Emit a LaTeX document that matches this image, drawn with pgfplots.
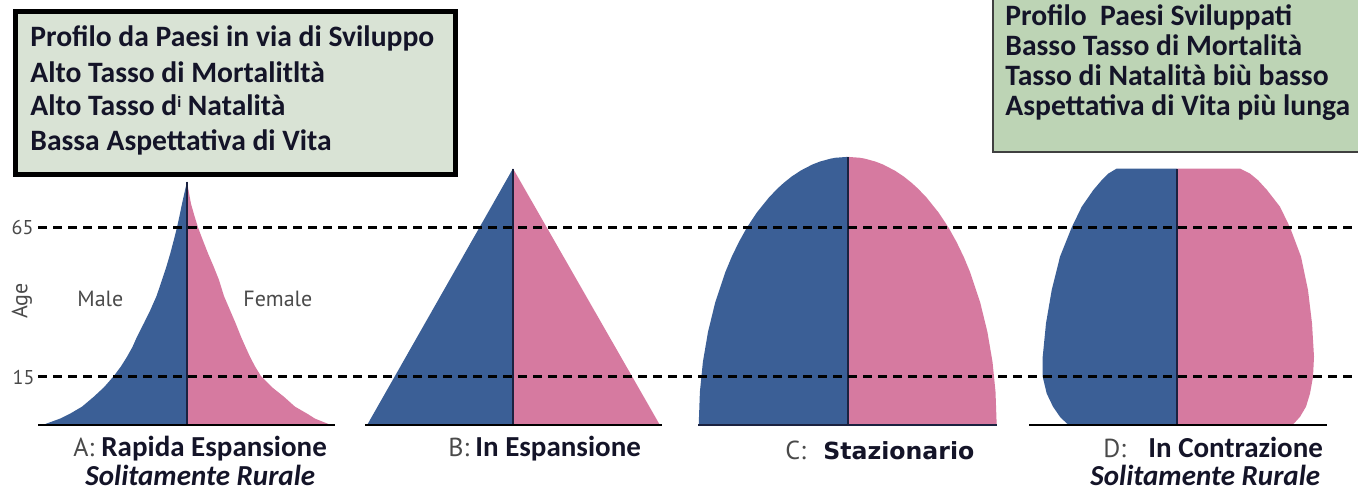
\documentclass[border=0pt]{standalone}
\usepackage{pgfplots}
\pgfplotsset{compat=1.18}
\usepackage{pgfplotstable}
\usepackage{fontspec}
\setmainfont{Carlito}
\newfontfamily\myriad{PT Sans}
\newfontfamily\dejavu{DejaVu Sans}

\definecolor{maleblue}{HTML}{3B5F96}
\definecolor{femalepink}{HTML}{D67AA0}
\definecolor{midline}{HTML}{1B2240}
\definecolor{boxL}{HTML}{D9E3D5}
\definecolor{boxR}{HTML}{BDD4B5}
\definecolor{labgray}{HTML}{4A4A4A}
\definecolor{ink}{HTML}{141428}

% x = horizontal position (px of the sheet), age = years
\pgfplotstableread{
x age
187 -1.2
42 -1.2
47 -0.6
60 1.0
70.3 2.7
82 5.0
93.7 8.3
104 11.5
113.7 15.2
121 18.5
127 21.7
132.5 25
137 28.4
144 33
150.3 37.3
156.5 42
162 47.4
166.5 52
170.3 56.3
174 61
177 65
179.6 69
182 72.9
184.4 76.5
187 80.3
}\Amale
\pgfplotstableread{
x age
187 -1.2
331 -1.2
327 -0.6
315 1.0
307 2.7
295 5.0
284 8.3
272 11.5
261 15.2
255 18.5
250 21.7
245.5 25
241 28.4
235.5 33
230 37.3
224 42
219 47.4
213.5 52
208 56.3
202.5 61
198 65
194.3 69
191 72.9
189 76.5
187 80.3
}\Afemale
\pgfplotstableread{
x age
513 -1.2
367 -1.2
513 84.7
}\Bmale
\pgfplotstableread{
x age
513 -1.2
660 -1.2
513 84.7
}\Bfemale
\pgfplotstableread{
x age
847.7 -1.2
698.7 -1.2
699.9 10
702.9 20
708.0 30
715.3 40
725.3 50
731.5 55
738.7 60
747.0 65
756.9 70
768.9 75
777.5 78
784.1 80
791.6 82
800.6 84
812.1 86
819.7 87
830.5 88
835.5 88.3
847.7 88.6
}\Cmale
\pgfplotstableread{
x age
847.7 -1.2
996.7 -1.2
995.5 10
992.5 20
987.4 30
980.1 40
970.1 50
963.9 55
956.7 60
948.4 65
938.5 70
926.5 75
917.9 78
911.3 80
903.8 82
894.8 84
883.3 86
875.7 87
864.9 88
859.9 88.3
847.7 88.6
}\Cfemale
\pgfplotstableread{
x age
1177 -1.2
1070 -1.2
1066.7 -0.6
1060 1.6
1053 5
1046.7 9.4
1042.7 15
1042.7 21.7
1046 32.9
1051.7 44
1060 55.2
1071.7 65
1081.7 71.9
1093.3 77.5
1101.7 80.8
1108.3 83.0
1116.7 84.7
1177 84.7
}\Dmale
\pgfplotstableread{
x age
1177 -1.2
1290 -1.2
1294 -0.6
1300 1.6
1306 5
1310 9.4
1313 15
1314 21.7
1312 32.9
1308 44
1301 55.2
1290 65
1280 71.9
1267 77.5
1258 80.8
1250 83.0
1240 84.7
1177 84.7
}\Dfemale

\begin{document}
\begin{tikzpicture}
\begin{axis}[
    x=0.5bp, y=1.494bp,
    xmin=0, xmax=1358,
    ymin=-23.6, ymax=141.1,
    hide axis, clip=false,
    ]
\coordinate (BL) at (axis cs:0,-23.6);
\coordinate (TR) at (axis cs:1358,141.1);

% pyramids
\addplot[fill=maleblue, draw=none] table[x=x, y=age] {\Amale};
\addplot[fill=femalepink, draw=none] table[x=x, y=age] {\Afemale};
\addplot[fill=maleblue, draw=none] table[x=x, y=age] {\Bmale};
\addplot[fill=femalepink, draw=none] table[x=x, y=age] {\Bfemale};
\addplot[fill=maleblue, draw=none] table[x=x, y=age] {\Cmale};
\addplot[fill=femalepink, draw=none] table[x=x, y=age] {\Cfemale};
\addplot[fill=maleblue, draw=none] table[x=x, y=age] {\Dmale};
\addplot[fill=femalepink, draw=none] table[x=x, y=age] {\Dfemale};

% centre lines
\addplot[midline, line width=1bp] coordinates {(187,-1.2) (187,80.3)};
\addplot[midline, line width=1bp] coordinates {(513,-1.2) (513,84.7)};
\addplot[midline, line width=1bp] coordinates {(847.7,-1.2) (847.7,88.6)};
\addplot[midline, line width=1bp] coordinates {(1177,-1.2) (1177,84.7)};

% age thresholds
\addplot[black, line width=1.6bp, dash pattern=on 4.5bp off 3bp] coordinates {(38,65) (1352,65)};
\addplot[black, line width=1.6bp, dash pattern=on 4.5bp off 3bp] coordinates {(38,15) (1352,15)};

% base lines
\addplot[black, line width=1bp] coordinates {(38,-1.2) (335,-1.2)};
\addplot[black, line width=1bp] coordinates {(365,-1.2) (662,-1.2)};
\addplot[midline, line width=1bp] coordinates {(698,-1.2) (997,-1.2)};
\addplot[black, line width=1bp] coordinates {(1029,-1.2) (1327,-1.2)};

% axis annotations
\node[labgray, font=\myriad\fontsize{10bp}{10bp}\selectfont, inner sep=0] at (axis cs:22.5,65) {65};
\node[labgray, font=\myriad\fontsize{10bp}{10bp}\selectfont, inner sep=0] at (axis cs:23.5,14.8) {15};
\node[labgray, font=\myriad\fontsize{11bp}{11bp}\selectfont, inner sep=0, rotate=90] at (axis cs:22,40.3) {Age};
\node[labgray, font=\myriad\fontsize{11bp}{11bp}\selectfont, inner sep=0, anchor=base west] at (axis cs:77,38.4) {Male};
\node[labgray, font=\myriad\fontsize{11bp}{11bp}\selectfont, inner sep=0, anchor=base west] at (axis cs:243,38.4) {Female};

% left text box
\draw[line width=2.5bp, fill=boxL] (axis cs:15.8,137.11) rectangle (axis cs:455.8,82.76);
\begin{scope}[every node/.style={anchor=base west, inner sep=0, ink, font=\bfseries\fontsize{14.8bp}{17bp}\selectfont}]
\node at (axis cs:30,125.44) {Profilo da Paesi in via di Sviluppo};
\node at (axis cs:30,113.52) {Alto Tasso di Mortalitltà};
\node at (axis cs:30,102.58) {Alto Tasso d{\fontsize{8bp}{8bp}\selectfont\raisebox{0.5em}{i}} Natalità};
\node at (axis cs:30,90.86) {Bassa Aspettativa di Vita};
\end{scope}

% right text box
\fill[boxR] (axis cs:992.7,145) rectangle (axis cs:1365,90.29);
\draw[black!75, line width=0.8bp] (axis cs:992.7,145) -- (axis cs:992.7,90.29) -- (axis cs:1365,90.29);
\begin{scope}[every node/.style={anchor=base west, inner sep=0, ink, font=\bfseries\fontsize{14.8bp}{17bp}\selectfont}]
\node at (axis cs:1005,132.70) {Profilo\ \ Paesi Sviluppati};
\node at (axis cs:1005,122.66) {Basso Tasso di Mortalità};
\node at (axis cs:1005,112.62) {Tasso di Natalità biù basso};
\node at (axis cs:1005,102.58) {Aspettativa di Vita più lunga};
\end{scope}

% captions
\begin{scope}[every node/.style={anchor=base west, inner sep=0}]
\node[labgray, font=\myriad\fontsize{13bp}{13bp}\selectfont] at (axis cs:73,-11.78) {A:};
\node[ink, font=\bfseries\fontsize{14.5bp}{14.5bp}\selectfont] at (axis cs:101,-11.78) {Rapida Espansione};
\node[ink, font=\bfseries\itshape\fontsize{14.5bp}{14.5bp}\selectfont] at (axis cs:85,-21.25) {Solitamente Rurale};
\node[labgray, font=\myriad\fontsize{13bp}{13bp}\selectfont] at (axis cs:448,-11.78) {B:};
\node[ink, font=\bfseries\fontsize{14.5bp}{14.5bp}\selectfont] at (axis cs:475,-11.78) {In Espansione};
\node[labgray, font=\myriad\fontsize{13bp}{13bp}\selectfont] at (axis cs:785,-12.6) {C:};
\node[ink, font=\dejavu\bfseries\fontsize{11.8bp}{11.8bp}\selectfont] at (axis cs:823,-12.6) {Stazionario};
\node[labgray, font=\myriad\fontsize{13bp}{13bp}\selectfont] at (axis cs:1103,-11.9) {D:};
\node[ink, font=\bfseries\fontsize{14.5bp}{14.5bp}\selectfont] at (axis cs:1148,-11.9) {In Contrazione};
\node[ink, font=\bfseries\itshape\fontsize{14.5bp}{14.5bp}\selectfont] at (axis cs:1090,-21.25) {Solitamente Rurale};
\end{scope}
\end{axis}
\pgfresetboundingbox
\path[use as bounding box] (BL) rectangle (TR);
\end{tikzpicture}
\end{document}
